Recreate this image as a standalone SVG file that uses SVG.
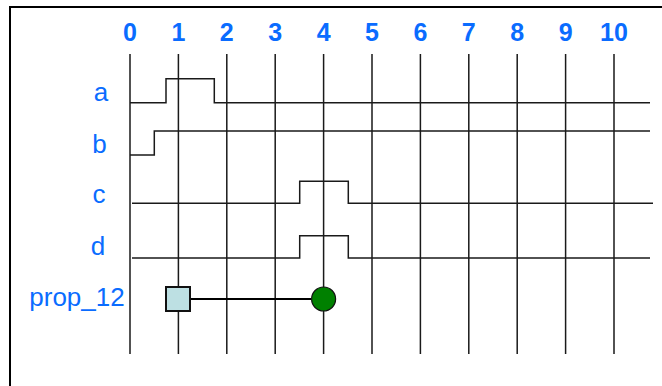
<svg xmlns="http://www.w3.org/2000/svg" width="662" height="386" viewBox="0 0 662 386">
<style>
.frame{stroke:#000;stroke-width:2;fill:none}
.grid{stroke:#1a1a1a;stroke-width:1.5;fill:none}
.wave{stroke:#1a1a1a;stroke-width:1.5;fill:none}
.num{font-family:"Liberation Sans",Arial,sans-serif;font-weight:bold;font-size:25px;fill:#0a6cff;text-anchor:middle}
.lbl{font-family:"Liberation Sans",Arial,sans-serif;font-size:26px;fill:#0a6cff;text-anchor:middle}
</style>
<rect width="662" height="386" fill="#fff"/>
<g id="frame">
<path class="frame" d="M10,386 V7 H662"/>
</g>
<g id="grid">
<path class="grid" d="M130,54 V354 M178.4,54 V354 M226.8,54 V354 M275.2,54 V354 M323.6,54 V354 M372,54 V354 M420.4,54 V354 M468.8,54 V354 M517.2,54 V354 M565.6,54 V354 M614,54 V354"/>
</g>
<g id="ticks">
<text class="num" x="130" y="41">0</text>
<text class="num" x="178.4" y="41">1</text>
<text class="num" x="226.8" y="41">2</text>
<text class="num" x="275.2" y="41">3</text>
<text class="num" x="323.6" y="41">4</text>
<text class="num" x="372" y="41">5</text>
<text class="num" x="420.4" y="41">6</text>
<text class="num" x="468.8" y="41">7</text>
<text class="num" x="517.2" y="41">8</text>
<text class="num" x="565.6" y="41">9</text>
<text class="num" x="614" y="41">10</text>
</g>
<g id="labels">
<text class="lbl" x="101" y="101">a</text>
<text class="lbl" x="99.5" y="152.5">b</text>
<text class="lbl" x="99" y="203">c</text>
<text class="lbl" x="98" y="255">d</text>
<text class="lbl" x="77" y="306">prop_12</text>
</g>
<g id="waves">
<path id="wave-a" class="wave" d="M130,102.7 H166 V78.7 H214.3 V102.7 H650"/>
<path id="wave-b" class="wave" d="M130,155 H154.3 V131 H650"/>
<path id="wave-c" class="wave" d="M132,203.3 H299.7 V181.3 H348.3 V203.3 H653"/>
<path id="wave-d" class="wave" d="M132,258 H299.7 V235.7 H348.3 V258 H650"/>
</g>
<g id="connectors">
<line x1="190" y1="299" x2="311" y2="299" stroke="#000" stroke-width="2"/>
</g>
<g id="node-start">
<rect x="166" y="287" width="24" height="24" fill="#bde0e3" stroke="#111" stroke-width="2"/>
</g>
<g id="node-end">
<circle cx="323.6" cy="299" r="12" fill="#008000" stroke="#111" stroke-width="1.2"/>
</g>
</svg>
